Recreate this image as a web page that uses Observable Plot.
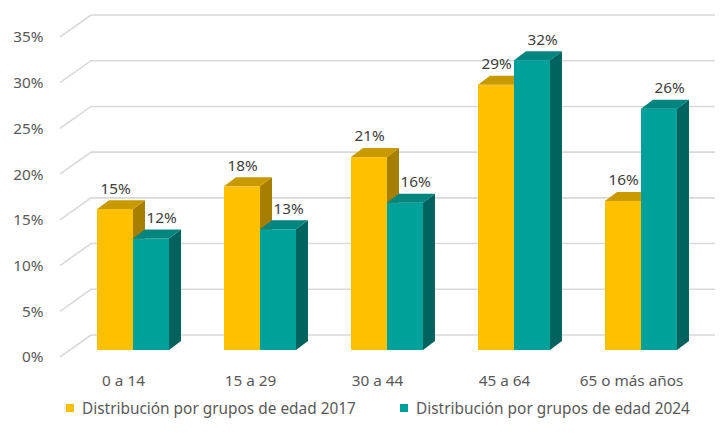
<!DOCTYPE html>
<html><head><meta charset="utf-8">
<script src="https://cdn.jsdelivr.net/npm/d3@7"></script>
<script src="https://cdn.jsdelivr.net/npm/@observablehq/plot@0.6"></script>
<style>
body{margin:0;background:#fff;font-family:"Noto Sans",sans-serif;}
#wrap{position:relative;width:720px;height:433px;overflow:hidden;}
.leg{position:absolute;top:395px;height:26px;display:flex;align-items:center;font-size:15.4px;color:#595959;white-space:nowrap;}
.sw{width:8px;height:8px;margin-right:8px;}
</style></head><body><div id="wrap"></div>
<script>
const categories = ["0 a 14", "15 a 29", "30 a 44", "45 a 64", "65 o más años"];
const values2017 = [15.4, 17.9, 21.1, 29.0, 16.3];
const values2024 = [12.2, 13.2, 16.1, 31.7, 26.4];
const seriesNames = ["Distribución por grupos de edad 2017", "Distribución por grupos de edad 2024"];
const yTicks = [0, 5, 10, 15, 20, 25, 30, 35];
const frontColors = ["#FFC000", "#00A19A"];
const topColors = ["#C99A00", "#00857F"];
const sideColors = ["#A67E00", "#00635E"];

const data = [];
categories.forEach((c, i) => {
  data.push({cat: c, s: 0, v: values2017[i]});
  data.push({cat: c, s: 1, v: values2024[i]});
});

const DX = 12, DY = 9;

const wall = Plot.ruleY(yTicks, {y: d => d, render(index, scales, values, dim) {
  const g = d3.create("svg:g");
  const x0 = dim.marginLeft - 31, x1 = dim.marginLeft, x2 = dim.width - dim.marginRight;
  for (const i of index) {
    const y = values.y[i];
    g.append("path").attr("d", `M${x0},${y + 7}L${x1},${y - 15}H${x2}`)
      .attr("fill", "none").attr("stroke", "#d9d9d9").attr("stroke-width", 1.6);
  }
  return g.node();
}});

const bars = Plot.barY(data, {x: "cat", y: "v", render(index, scales, values, dim) {
  const g = d3.create("svg:g");
  const bw = scales.x.bandwidth ? scales.x.bandwidth() : 72;
  const yb = scales.y(0);
  for (const i of index) {
    const d = data[i];
    const xs = scales.x(d.cat) + (d.s ? bw / 2 : 0), xe = xs + bw / 2;
    const yt = scales.y(d.v);
    g.append("rect").attr("x", xs).attr("y", yt).attr("width", xe - xs).attr("height", yb - yt).attr("fill", frontColors[d.s]);
    g.append("path").attr("d", `M${xe},${yt}L${xe + DX},${yt - DY}L${xe + DX},${yb - DY}L${xe},${yb}Z`).attr("fill", sideColors[d.s]);
    g.append("path").attr("d", `M${xs},${yt}L${xe},${yt}L${xe + DX},${yt - DY}L${xs + DX},${yt - DY}Z`).attr("fill", topColors[d.s]);
  }
  return g.node();
}});

const fmt = d => Math.round(d.v) + "%";
const plot = Plot.plot({
  width: 720, height: 395,
  marginTop: 30, marginBottom: 45, marginLeft: 91, marginRight: 5,
  style: {fontFamily: "'Noto Sans', sans-serif", fontSize: "15.3px", color: "#595959", background: "#fff"},
  x: {domain: categories, range: [69.5, 704.5], paddingInner: 0.433, paddingOuter: 0.2165, label: null},
  y: {domain: [0, 35], label: null},
  marks: [
    wall,
    bars,
    Plot.axisY({ticks: yTicks, tickFormat: d => d + "%", tickSize: 0, tickPadding: 48, dy: 7, label: null}),
    Plot.axisX({tickSize: 0, tickPadding: 25, dx: -10, label: null}),
    Plot.text(data.filter(d => d.s === 0), {x: "cat", y: "v", text: fmt, dx: -18, dy: -21, fill: "#404040"}),
    Plot.text(data.filter(d => d.s === 1), {x: "cat", y: "v", text: fmt, dx: 28, dy: -21, fill: "#404040"})
  ]
});
const wrap = document.getElementById("wrap");
wrap.appendChild(plot);
const lefts = [66, 400];
seriesNames.forEach((n, i) => {
  const item = document.createElement("div");
  item.className = "leg";
  item.style.left = lefts[i] + "px";
  item.innerHTML = `<span class="sw" style="background:${frontColors[i]}"></span><span>${n}</span>`;
  wrap.appendChild(item);
});
</script></body></html>
